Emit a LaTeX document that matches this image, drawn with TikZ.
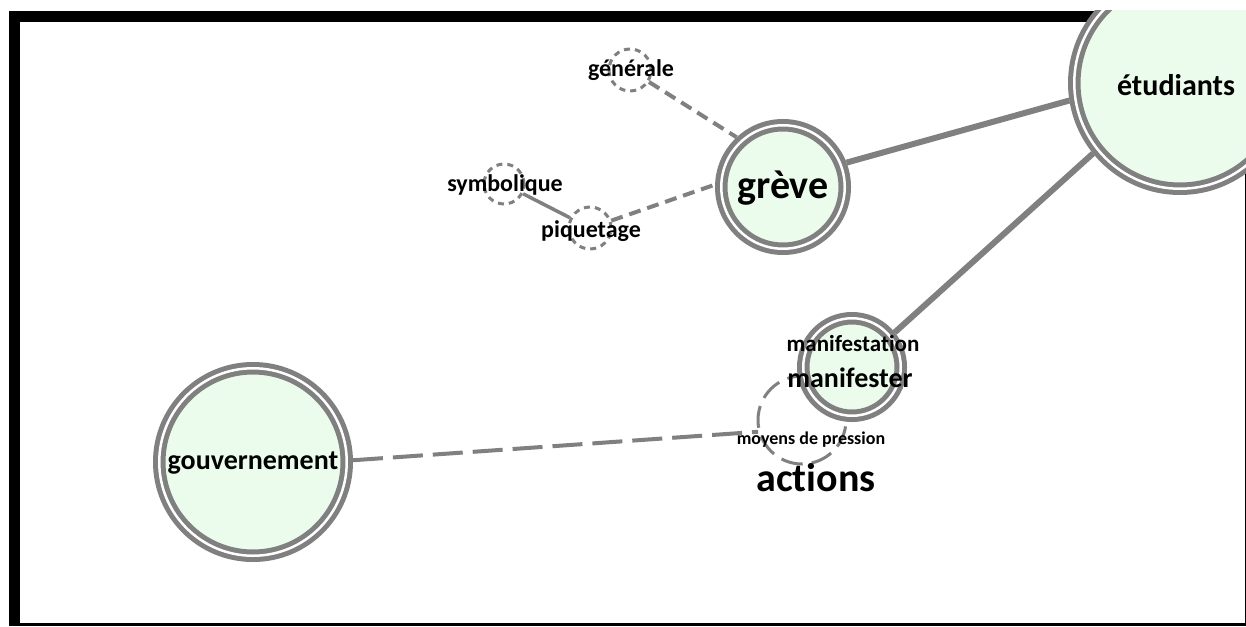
\documentclass[tikz,border=0pt]{standalone}
\usepackage{fontspec}
\setmainfont{Carlito}[Ligatures=NoCommon]
\definecolor{ringgray}{RGB}{128,128,128}
\definecolor{mint}{RGB}{236,252,236}
\begin{document}
\begin{tikzpicture}[x=1pt,y=-1pt,
  ring/.style={circle, draw=ringgray, double=white, double distance=2.5pt,
    line width=5pt, fill=mint, inner sep=0pt, outer sep=6.25pt},
  tagring/.style={circle, draw=ringgray, line width=3pt,
    dash pattern=on 6pt off 5pt, inner sep=0pt, outer sep=1.5pt},
  solidlink/.style={draw=ringgray, line width=6pt},
  thinlink/.style={draw=ringgray, line width=3.5pt},
  dashlink/.style={draw=ringgray, line width=4pt, dash pattern=on 12pt off 7pt},
  longdash/.style={draw=ringgray, line width=4pt, dash pattern=on 30pt off 10pt},
  lbl/.style={inner sep=0pt, text=black},
  fs/.style={font=\bfseries\fontsize{#1pt}{#1pt}\selectfont}]
\useasboundingbox (0,0) rectangle (1246,626);
% panel frame
\fill[black] (9,11) rectangle (1246,626);
\fill[white] (20,22) rectangle (1245,623);
\begin{scope}
\clip (9,11) rectangle (1246,626);
% dashed term circles
\node[tagring, minimum size=88pt, dash pattern=on 22pt off 9pt] (actions) at (802,420) {};
\node[tagring, minimum size=42pt] (generale) at (630,70) {};
\node[tagring, minimum size=40pt] (symbolique) at (504,184) {};
\node[tagring, minimum size=42pt] (piquetage) at (590,228) {};
% concept circles
\node[ring, minimum size=211.5pt] (etud) at (1180,83) {};
\node[ring, minimum size=123.5pt] (greve) at (783,187) {};
\node[ring, minimum size=187.5pt] (gouv) at (253,462) {};
\node[ring, minimum size=97.5pt] (manif) at (852,367) {};
% links
\draw[solidlink] (greve.21) -- (etud.189);
\draw[solidlink] (manif.39) -- (etud.219);
\draw[dashlink] (generale) -- (greve.133);
\draw[dashlink] (piquetage) -- (greve.178);
\draw[thinlink] (symbolique) -- (piquetage);
\draw[longdash] (gouv.1) -- (actions.195);
% labels
\node[lbl, fs=30] (etudLbl) at (1176,85) {étudiants};
\node[lbl, fs=40] (greveLbl) at (783,188) {grève};
\node[lbl, fs=28] (gouvLbl) at (253,463) {gouvernement};
\node[lbl, fs=28] (manifLbl) at (850,378) {manifester};
\node[lbl, fs=23] (manifestationLbl) at (853,344) {manifestation};
\node[lbl, fs=18] (moyensLbl) at (811,440) {moyens de pression};
\node[lbl, fs=40] (actionsLbl) at (816,478) {actions};
\node[lbl, fs=24] (generaleLbl) at (631,70) {générale};
\node[lbl, fs=24] (symboliqueLbl) at (505,185) {symbolique};
\node[lbl, fs=24] (piquetageLbl) at (591,231) {piquetage};
\end{scope}
\end{tikzpicture}
\end{document}
